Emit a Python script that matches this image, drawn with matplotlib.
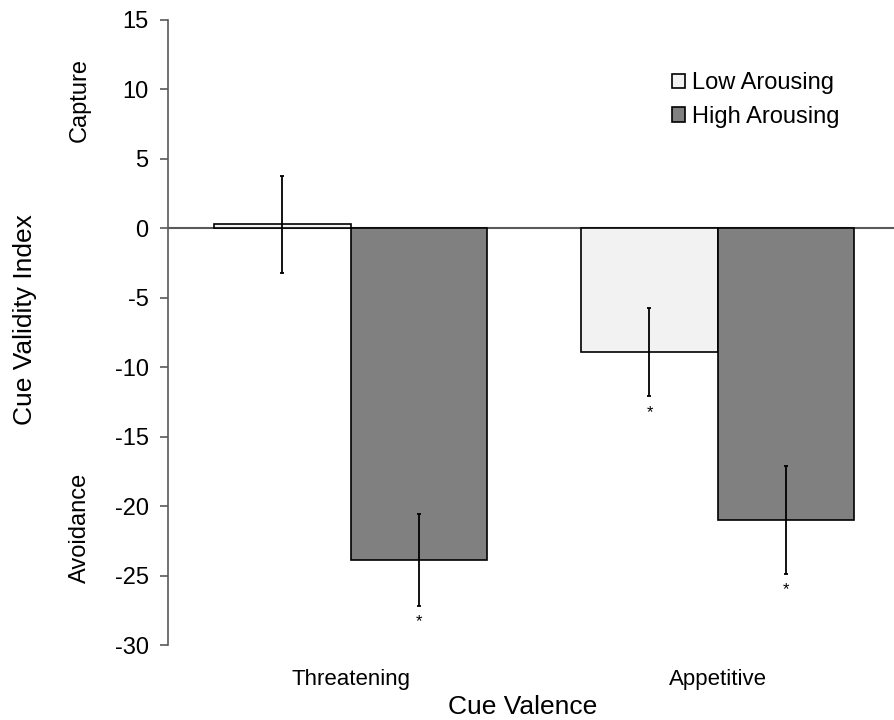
import matplotlib.pyplot as plt
import numpy as np

categories = ["Threatening", "Appetitive"]
low_arousing = [0.3, -8.9]
low_err = [3.5, 3.2]
high_arousing = [-23.9, -21.0]
high_err = [3.3, 3.9]
low_sig = [False, True]
high_sig = [True, True]
y_ticks = [-30, -25, -20, -15, -10, -5, 0, 5, 10, 15]


def draw_chart():
    plt.rcParams["font.family"] = ["Liberation Sans", "DejaVu Sans"]
    plt.rcParams["axes.unicode_minus"] = False

    fig = plt.figure(figsize=(8.95, 7.2), dpi=100)
    ax = fig.add_axes([168 / 895, 1 - 645 / 720, 1 - 168 / 895, 625 / 720])

    x = np.arange(len(categories))
    width = 0.372

    ax.axhline(0, color="#595959", linewidth=1.5, zorder=1)

    ax.bar(x - width / 2, low_arousing, width, color="#f2f2f2", edgecolor="black",
           linewidth=1.2, label="Low Arousing", zorder=2)
    ax.bar(x + width / 2, high_arousing, width, color="#808080", edgecolor="black",
           linewidth=1.2, label="High Arousing", zorder=2)

    ax.errorbar(x - width / 2, low_arousing, yerr=low_err, fmt="none", ecolor="black",
                elinewidth=1.3, capsize=1.5, capthick=1.3, zorder=3)
    ax.errorbar(x + width / 2, high_arousing, yerr=high_err, fmt="none", ecolor="black",
                elinewidth=1.3, capsize=1.5, capthick=1.3, zorder=3)

    # significance stars under the error bars
    for xs, vals, errs, sig in [(x - width / 2, low_arousing, low_err, low_sig),
                                (x + width / 2, high_arousing, high_err, high_sig)]:
        for xi, v, e, s in zip(xs, vals, errs, sig):
            if s:
                ax.annotate("*", (xi, v - e), xytext=(0, -6), textcoords="offset points",
                            ha="center", va="top", fontsize=12)

    ax.set_xlim(-0.498, 1.483)
    ax.set_ylim(-30, 15)
    ax.set_yticks(y_ticks)
    ax.set_yticklabels([str(t) for t in y_ticks], fontsize=17)
    ax.set_xticks(x)
    ax.set_xticklabels(categories, fontsize=16)
    ax.tick_params(axis="x", length=0, pad=17)
    ax.tick_params(axis="y", direction="out", length=6, width=1.2, color="#595959", pad=8)

    for side in ["top", "right", "bottom"]:
        ax.spines[side].set_visible(False)
    ax.spines["left"].set_color("#595959")
    ax.spines["left"].set_linewidth(1.2)

    fig.text(523 / 895, 1 - 707 / 720, "Cue Valence", ha="center",
             va="center", fontsize=19)
    fig.text(25 / 895, 1 - 320 / 720, "Cue Validity Index", rotation=90, ha="center",
             va="center", fontsize=19)
    fig.text(80 / 895, 1 - 100 / 720, "Capture", rotation=90, ha="center",
             va="center", fontsize=17)
    fig.text(80 / 895, 1 - 528 / 720, "Avoidance", rotation=90, ha="center",
             va="center", fontsize=17)

    ax.legend(loc="upper left", bbox_to_anchor=(672 / 895, 1 - 72 / 720),
              bbox_transform=fig.transFigure, frameon=False, fontsize=17,
              handlelength=0.55, handleheight=0.55, handletextpad=0.3,
              labelspacing=0.5, borderaxespad=0, borderpad=0)

    fig.savefig("out.png", dpi=100)


if __name__ == "__main__":
    draw_chart()
